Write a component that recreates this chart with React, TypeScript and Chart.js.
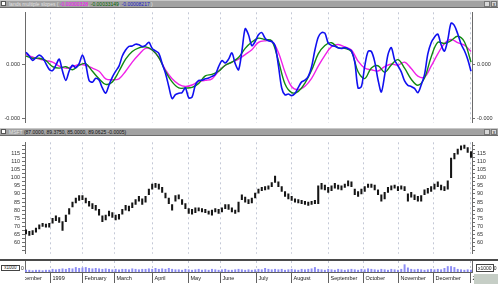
import React, { useEffect, useRef } from "react";
import { Chart, registerables } from "chart.js";

Chart.register(...registerables);

// ---- data -------------------------------------------------------------
// x axis is in trading days since the first bar (10 Dec 1998)
const SAMPLE_STEP = 2; // days between price / volume / blue samples
const SMOOTH_STEP = 4; // days between green / magenta samples
const SLOPE_UNIT = 0.0001;
const X_MIN = -0.6;
const X_MAX = 268.6;

const blueSlope = [
  0.9, 0.61, 0.29, 0.5, 0.68, 0.5, 0.05, -0.38, -0.47, -0.07,
  0.38, -0.52, -1.2, -0.5, -0.07, -0.25, 0.05, 0.68, -0.02, -1.2,
  -1.33, -1.04, -1.18, -1.76, -2.15, -1.54, -0.95, -0.52, -0.14, 0.61,
  1.06, 1.33, 1.36, 1.49, 1.45, 1.31, 1.4, 1.63, 1.18, 0.99,
  0.81, 0.05, -0.66, -1.65, -2.55, -2.26, -2.15, -2.1, -1.76, -2.49,
  -2.44, -1.54, -1.2, -1.18, -1.08, -1.02, -0.9, -0.75, -0.18, 0.27,
  0.09, 0.38, 0.84, 0.05, -0.41, 0.95, 2.64, 2.19,
  1.38, 1.69, 2.19, 2.35, 1.94, 1.74, 1.69, 1.38, -0.09, -1.76,
  -2.28, -2.21, -2.33, -2.17, -1.72, -1.31, -1.18, -0.9, -0.18, 1.06,
  2.01, 2.35, 2.31, 1.58, 1.4, 1.33, 1.22, 1.17, 1.24, 1.15,
  0.99, 0.16, -1.76, -1.65, -0.14, 0.95, 0.95, 0.2, -1.15, -2.06,
  -0.81, 0.72, 1.24, 0.32, -0.11, -0.56, -1.24, -1.56, -1.65, -1.79,
  -2.12, -1.54, -0.77, 0.77, 1.6, 2.01, 2.24, 1.45, 0.97, 1.81,
  3.05, 2.87, 2.26, 1.51, 1.02, 0.38, -0.52,
];

const greenSlope = [
  0.61, 0.45, 0.45, 0.27, -0.18, -0.29, -0.18, -0.41, -0.07, 0.05,
  -0.52, -1.08, -1.49, -1.31, -0.52, 0.38, 0.95, 1.22, 1.29, 1.06,
  0.5, -0.52, -1.31, -1.76, -1.76, -1.72, -1.42, -0.86, -0.75, -0.52,
  -0.07, 0.16, 0.5, 1.18,
  1.65, 1.94, 1.83, 1.74, 0.27, -1.47, -2.1, -2.01, -1.4, -0.45,
  0.77, 1.4, 1.6, 1.22, 1.18, 0.93, -0.56, -1.06, -0.27, -0.11,
  -0.59, -0.05, 0.34, -0.29, -1.11, -1.56, -1.02, 0.54, 1.63, 1.54,
  1.76, 2.08, 1.67, 0.16,
];

const magentaSlope = [
  0.72, 0.54, 0.38, 0.27, 0.16, -0.14, -0.29, -0.18, -0.02, -0.07,
  -0.29, -0.52, -1.08, -1.15, -1.08, -0.52, 0.16, 0.72, 1.18, 1.06,
  0.5, -0.41, -1.08, -1.49, -1.65, -1.54, -1.27, -1.2, -1.08, -0.52,
  -0.07, 0.16, 0.38, 0.72,
  1.08, 1.63, 1.74, 1.72, 0.88, -0.59, -1.67, -1.88, -1.63, -1.04,
  -0.14, 0.66, 1.31, 1.47, 1.29, 1.06, 0.23, -0.29, -0.41, -0.5,
  -0.18, 0.02, -0.07, 0.16, -0.32, -0.88, -0.95, -0.14, 0.77, 1.54,
  1.85, 1.6, 1.42, 0.95,
];

const priceLow = [
  65.5, 64.5, 65, 66.5, 68.5, 70, 69.5, 69.5, 72, 73.5,
  72.5, 67.5, 73, 77.5, 82, 84.5, 86, 86.5, 84.5, 82.5,
  81, 80, 77, 73, 74, 76.5, 75.5, 74, 74.5, 77.5,
  80, 79.5, 81.5, 83.5, 85.5, 83.5, 85, 89.5, 93, 94,
  93, 91, 87.5, 84, 80, 85.5, 87, 83.5, 81, 78,
  77.5, 78.5, 79.5, 79, 78.5, 77.5, 77, 79, 78, 79,
  81, 80.5, 79, 78, 79, 86.5, 85, 84, 84.5, 87.5,
  90.5, 92, 92.5, 93, 94.5, 97, 94.5, 91.5, 88.5, 87,
  86, 85, 84.5, 84, 83.5, 83, 83.5, 84, 84, 93,
  92.5, 91, 92, 93.5, 93, 92.5, 94, 95, 94.5, 89.5,
  88.5, 90, 91.5, 94, 94, 92.5, 89.5, 85.5, 87, 91,
  92.5, 93.5, 92, 93, 92, 85.5, 88, 86.5, 85.5, 85.5,
  89.5, 90.5, 91.5, 93, 94.5, 92.5, 92, 93, 100, 111.5,
  114.5, 117, 118, 115.5, 112.5,
];

const priceHigh = [
  68, 67, 67.5, 69, 71, 72, 71.5, 72, 75, 76.5,
  75.5, 73, 77, 81, 85, 87.5, 89, 89, 87.5, 85.5,
  84, 83, 80.5, 76.5, 77, 79.5, 78.5, 77, 77.5, 80.5,
  83, 82.5, 84.5, 86.5, 88.5, 87, 88.5, 93, 96, 96.5,
  96, 94, 90.5, 87.5, 83.5, 89, 89.5, 86.5, 84, 81,
  80.5, 81.5, 81.5, 81, 80.5, 79.5, 80, 81, 80.5, 81.5,
  83.5, 83.5, 81.5, 80, 85, 89.5, 88, 86.5, 87.5, 90.5,
  93, 94, 94.5, 95, 97, 101, 97.5, 94.5, 91.5, 90,
  88.5, 87, 86.5, 86, 85.5, 85, 85.5, 86, 95, 96.5,
  95.5, 94, 95, 96.5, 95.5, 95, 96, 98, 97.5, 93,
  91.5, 93, 94.5, 96, 96, 95.5, 92.5, 89.5, 91, 94,
  95, 95.5, 94.5, 95, 94.5, 90, 91, 89.5, 88.5, 89,
  92.5, 93.5, 94.5, 96, 97.5, 95.5, 94.5, 98, 112, 115,
  117.5, 119.5, 120, 118.5, 116,
];

const volume = [
  2, 2, 1.5, 2, 2, 1.5, 2, 2,
  3, 2.5, 3, 3.5, 3,
  4, 3.5, 5, 4, 4.5, 5, 4, 3.5, 4, 3.5,
  3, 3.5, 3, 2.5, 3, 2.5, 3, 3, 2.5, 3.5, 3, 2.5, 3, 3, 3.5,
  3, 4, 3, 3.5, 3, 4, 3, 2.5,
  2.5, 2, 3, 2.5, 2, 2.5, 3, 2, 2.5, 2, 3, 2.5, 2, 2.5, 3, 2, 2, 2.5, 3, 2.5, 2, 2.5,
  2, 2.5, 3, 2.5, 4, 3, 2.5, 3, 2.5, 3, 2, 2.5, 3, 2.5, 2,
  3, 2.5, 3, 3.5, 5, 3, 2.5, 2, 3, 2.5, 2, 3, 2.5,
  2, 2.5, 3, 2.5, 2, 3, 2.5, 3.5, 3, 2.5, 2, 3, 2.5, 2, 3, 2.5, 2,
  3, 8, 4.5, 3, 2.5, 3, 2.5,
  2, 2.5, 3, 2.5, 3, 2.5, 4, 6,
  6, 5, 3, 2.5, 2, 2.5, 2,
];

const monthStarts = [-7.5, 14.5, 33.5, 53, 76, 97.5, 117, 138.5, 159.5, 182, 203, 224, 245, 267.5];
const monthLabels = [
  "December", "1999", "February", "March", "April", "May", "June",
  "July", "August", "September", "October", "November", "December", "2000",
];

const slopeTicks = [0, -4];
const priceTickLabels = [60, 65, 70, 75, 80, 85, 90, 95, 100, 105, 110, 115];
const priceMinorTicks = [55, 57.5, 62.5, 67.5, 72.5, 77.5, 82.5, 87.5, 92.5, 97.5, 102.5, 107.5, 112.5, 117.5, 120];

// ---- styling ------------------------------------------------------------
const FONT = "'Liberation Sans', Arial, sans-serif";
const LABEL_SIZE = 5.5;

const monthGridPlugin = {
  id: "monthGrid",
  beforeDatasetsDraw(chart: any) {
    const { ctx, chartArea, scales } = chart;
    const xs = scales.x;
    ctx.save();
    ctx.strokeStyle = "#c3c8d6";
    ctx.lineWidth = 1;
    ctx.setLineDash([2, 3]);
    monthStarts.forEach((m) => {
      const px = Math.round(xs.getPixelForValue(m)) + 0.5;
      if (px <= chartArea.left + 1 || px >= chartArea.right) return;
      ctx.beginPath();
      ctx.moveTo(px, chartArea.top);
      ctx.lineTo(px, chartArea.bottom);
      ctx.stroke();
    });
    ctx.restore();
  },
};

const monthLabelPlugin = {
  id: "monthLabels",
  afterDraw(chart: any) {
    const { ctx, chartArea, scales } = chart;
    const xs = scales.x;
    const base = chartArea.bottom;
    ctx.save();
    ctx.strokeStyle = "#606060";
    ctx.lineWidth = 1;
    ctx.beginPath();
    ctx.moveTo(chartArea.left, base + 0.5);
    ctx.lineTo(chartArea.right, base + 0.5);
    ctx.stroke();
    ctx.beginPath();
    ctx.rect(chartArea.left, base, 474 - chartArea.left, 14);
    ctx.clip();
    ctx.font = `${LABEL_SIZE}px ${FONT}`;
    ctx.fillStyle = "#202020";
    ctx.textBaseline = "middle";
    ctx.textAlign = "left";
    monthStarts.forEach((m, i) => {
      const px = Math.round(xs.getPixelForValue(m)) + 0.5;
      ctx.beginPath();
      ctx.moveTo(px, base);
      ctx.lineTo(px, base + 11);
      ctx.stroke();
      ctx.fillText(monthLabels[i], px + 2, base + 6.5);
    });
    ctx.restore();
  },
};

function xAxis() {
  return { type: "linear", min: X_MIN, max: X_MAX, display: false, offset: false, grid: { display: false } };
}

function sideAxis(position: string, min: number, max: number, tickValues: number[], label: (v: number) => string, width: number) {
  return {
    type: "linear",
    position,
    min,
    max,
    afterFit: (s: any) => {
      s.width = width;
    },
    afterBuildTicks: (s: any) => {
      s.ticks = tickValues.filter((v) => v >= min && v <= max).map((v) => ({ value: v }));
    },
    grid: { drawOnChartArea: false, drawTicks: true, tickLength: 3, color: "#707070" },
    border: { display: true, color: "#6a6a6a", width: 1 },
    ticks: {
      autoSkip: false,
      padding: 2,
      color: "#303030",
      font: { size: LABEL_SIZE, family: FONT },
      callback: (v: any) => label(Number(v)),
    },
  };
}

const baseOptions = {
  responsive: false,
  maintainAspectRatio: false,
  animation: false,
  events: [],
  layout: { padding: 0 },
  plugins: { legend: { display: false }, tooltip: { enabled: false }, title: { display: false } },
};

const slopeLabel = (v: number) => (v * SLOPE_UNIT).toFixed(3);
const priceLabel = (v: number) => (priceTickLabels.includes(v) ? String(v) : "");
const priceTickValues = [...priceTickLabels, ...priceMinorTicks].sort((a, b) => a - b);

function TitleBar({ top, children }: { top: number; children: any }) {
  return (
    <div
      style={{
        position: "absolute",
        left: 0,
        top,
        width: 498,
        height: 8,
        background: "#a2a2a2",
        borderTop: "1px solid #c8c8c8",
        borderBottom: "1px solid #6c6c6c",
        boxSizing: "border-box",
        fontSize: 5,
        lineHeight: "6px",
        whiteSpace: "nowrap",
        overflow: "hidden",
      }}
    >
      <div style={{ position: "absolute", left: 1, top: 0, width: 5, height: 5, background: "#fff", border: "1px solid #555", boxSizing: "border-box" }} />
      <div style={{ position: "absolute", left: 9, top: 0 }}>{children}</div>
      <div style={{ position: "absolute", left: 484, top: 0, width: 6, height: 6, background: "#d8d8d8", border: "1px solid #777", boxSizing: "border-box" }} />
      <div style={{ position: "absolute", left: 491, top: 0, width: 6, height: 6, background: "#d8d8d8", border: "1px solid #777", boxSizing: "border-box", fontSize: 5, lineHeight: "4px", textAlign: "center", color: "#222" }}>x</div>
    </div>
  );
}

export default function App() {
  const topRef = useRef<HTMLCanvasElement>(null);
  const priceRef = useRef<HTMLCanvasElement>(null);
  const volRef = useRef<HTMLCanvasElement>(null);

  useEffect(() => {
    const topMin = -4.34;
    const topMax = 3.86;
    const priceMin = 53.27;
    const priceMax = 121.73;

    const slopeChart = new Chart(topRef.current as HTMLCanvasElement, {
      type: "line",
      data: {
        datasets: [
          {
            data: blueSlope.map((v, i) => ({ x: i * SAMPLE_STEP, y: v })),
            borderColor: "#1010f0",
            borderWidth: 1.6,
            pointRadius: 0,
            tension: 0.3,
          },
          {
            data: greenSlope.map((v, i) => ({ x: i * SMOOTH_STEP, y: v })),
            borderColor: "#108a10",
            borderWidth: 1.4,
            pointRadius: 0,
            tension: 0.35,
          },
          {
            data: magentaSlope.map((v, i) => ({ x: i * SMOOTH_STEP, y: v })),
            borderColor: "#f020e8",
            borderWidth: 1.4,
            pointRadius: 0,
            tension: 0.35,
          },
        ],
      },
      options: {
        ...baseOptions,
        scales: {
          x: xAxis(),
          y: sideAxis("left", topMin, topMax, slopeTicks, slopeLabel, 25),
          y2: sideAxis("right", topMin, topMax, slopeTicks, slopeLabel, 26),
        },
      } as any,
      plugins: [monthGridPlugin],
    });

    const priceChart = new Chart(priceRef.current as HTMLCanvasElement, {
      type: "bar",
      data: {
        datasets: [
          {
            data: priceLow.map((lo, i) => ({ x: i * SAMPLE_STEP, y: [lo, priceHigh[i]] })) as any,
            backgroundColor: "#151515",
            borderWidth: 0,
            barThickness: 1.4,
            grouped: false,
          },
        ],
      },
      options: {
        ...baseOptions,
        scales: {
          x: xAxis(),
          y: sideAxis("left", priceMin, priceMax, priceTickValues, priceLabel, 25),
          y2: sideAxis("right", priceMin, priceMax, priceTickValues, priceLabel, 26),
        },
      } as any,
      plugins: [monthGridPlugin],
    });

    const volChart = new Chart(volRef.current as HTMLCanvasElement, {
      type: "bar",
      data: {
        datasets: [
          {
            data: volume.map((v, i) => ({ x: i * SAMPLE_STEP, y: v })),
            backgroundColor: "#8c8cf4",
            borderWidth: 0,
            barThickness: 1.3,
            grouped: false,
          },
        ],
      },
      options: {
        ...baseOptions,
        layout: { padding: { bottom: 12 } },
        scales: {
          x: xAxis(),
          y: sideAxis("left", 0, 12, [], () => "", 25),
          y2: sideAxis("right", 0, 12, [], () => "", 26),
        },
      } as any,
      plugins: [monthGridPlugin, monthLabelPlugin],
    });

    return () => {
      slopeChart.destroy();
      priceChart.destroy();
      volChart.destroy();
    };
  }, []);

  return (
    <div
      style={{
        position: "fixed",
        left: 0,
        top: 0,
        width: 498,
        height: 284,
        background: "#ffffff",
        overflow: "hidden",
        fontFamily: FONT,
      }}
    >
      <TitleBar top={0}>
        <span style={{ color: "#e4e4e4" }}>lands multiple slopes ( </span>
        <span style={{ color: "#ff00ff" }}>-0.00000328</span>
        <span style={{ color: "#e4e4e4" }}>, </span>
        <span style={{ color: "#006400" }}>-0.00033149</span>
        <span style={{ color: "#e4e4e4" }}>, </span>
        <span style={{ color: "#1818c8" }}>-0.00008217</span>
        <span style={{ color: "#e4e4e4" }}> )</span>
      </TitleBar>
      <canvas ref={topRef} width={498} height={121} style={{ position: "absolute", left: 0, top: 7, width: 498, height: 121 }} />
      <TitleBar top={128}>
        <span style={{ color: "#e4e4e4" }}>MSFT </span>
        <span style={{ color: "#111" }}>(87.0000, 89.3750, 85.0000, 89.0625 -0.0005)</span>
      </TitleBar>
      <canvas ref={priceRef} width={498} height={122} style={{ position: "absolute", left: 0, top: 137, width: 498, height: 122 }} />
      <div style={{ position: "absolute", left: 0, top: 259, width: 498, height: 2, background: "#4a4a4a" }} />
      <canvas ref={volRef} width={498} height={23} style={{ position: "absolute", left: 0, top: 261, width: 498, height: 23 }} />
      <div
        style={{
          position: "absolute",
          left: 1,
          top: 265,
          width: 19,
          height: 6,
          border: "1px solid #444",
          boxSizing: "border-box",
          background: "#fff",
          fontSize: 4.5,
          lineHeight: "4px",
          color: "#222",
          textAlign: "center",
        }}
      >
        x1000
      </div>
      <div style={{ position: "absolute", left: 21, top: 265, fontSize: 5, lineHeight: "6px", color: "#222" }}>0</div>
      <div style={{ position: "absolute", left: 476, top: 265, fontSize: 5, lineHeight: "6px", color: "#222", whiteSpace: "nowrap" }}>
        <span style={{ border: "1px solid #444", padding: "0 1px" }}>x1000</span>0
      </div>
      <div style={{ position: "absolute", left: 474, top: 274, width: 24, height: 10, background: "#c6cec6" }} />
    </div>
  );
}
